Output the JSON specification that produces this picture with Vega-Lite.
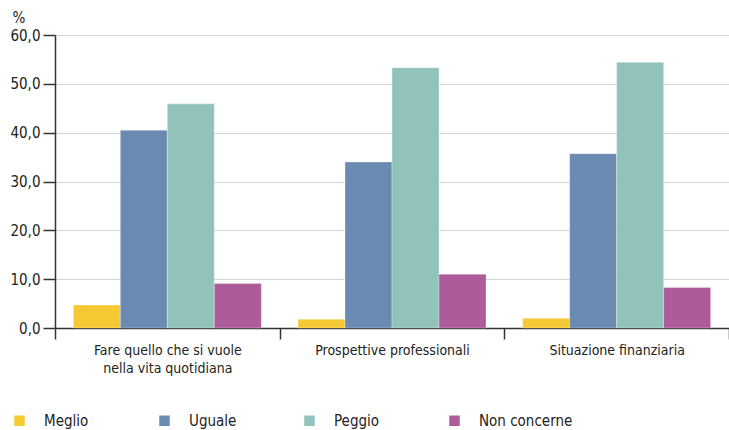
{
  "$schema": "https://vega.github.io/schema/vega-lite/v6.json",
  "width": 674,
  "height": 293,
  "autosize": {"type": "none"},
  "padding": {"left": 55, "top": 35, "right": 0, "bottom": 102},
  "background": "white",
  "data": {"values": [
    {"cat": "Fare quello che si vuole|nella vita quotidiana", "serie": "Meglio", "v": 4.7},
    {"cat": "Fare quello che si vuole|nella vita quotidiana", "serie": "Uguale", "v": 40.5},
    {"cat": "Fare quello che si vuole|nella vita quotidiana", "serie": "Peggio", "v": 45.9},
    {"cat": "Fare quello che si vuole|nella vita quotidiana", "serie": "Non concerne", "v": 9.1},
    {"cat": "Prospettive professionali", "serie": "Meglio", "v": 1.8},
    {"cat": "Prospettive professionali", "serie": "Uguale", "v": 34.0},
    {"cat": "Prospettive professionali", "serie": "Peggio", "v": 53.3},
    {"cat": "Prospettive professionali", "serie": "Non concerne", "v": 11.0},
    {"cat": "Situazione finanziaria", "serie": "Meglio", "v": 2.0},
    {"cat": "Situazione finanziaria", "serie": "Uguale", "v": 35.7},
    {"cat": "Situazione finanziaria", "serie": "Peggio", "v": 54.4},
    {"cat": "Situazione finanziaria", "serie": "Non concerne", "v": 8.3}
  ]},
  "mark": {"type": "bar", "stroke": "white", "strokeWidth": 0.5, "strokeOpacity": 0.6},
  "encoding": {
    "x": {
      "field": "cat", "type": "nominal", "sort": null,
      "scale": {"paddingInner": 0, "paddingOuter": 0},
      "axis": {
        "title": null, "labelAngle": 0, "tickBand": "extent",
        "labelExpr": "isString(datum.value) ? split(datum.value, '|') : ''",
        "labelFont": "DejaVu Sans Condensed", "labelFontSize": 14, "labelColor": "#222",
        "labelLineHeight": 18, "labelBaseline": "top",
        "tickSize": 11, "tickColor": "#333", "tickWidth": 1.5,
        "domainColor": "#333", "domainWidth": 1.5, "labelPadding": 4
      }
    },
    "xOffset": {"field": "serie", "type": "nominal", "sort": ["Meglio", "Uguale", "Peggio", "Non concerne"], "scale": {"paddingInner": 0, "paddingOuter": 0.39}},
    "y": {
      "field": "v", "type": "quantitative",
      "scale": {"domain": [0, 60], "nice": false},
      "axis": {
        "values": [0, 10, 20, 30, 40, 50, 60],
        "labelExpr": "replace(format(datum.value, '.1f'), '.', ',')",
        "title": "%", "titleAngle": 0, "titleX": -43, "titleY": -13,
        "titleAlign": "left", "titleBaseline": "alphabetic",
        "titleFont": "DejaVu Sans Condensed", "titleFontSize": 15, "titleFontWeight": "normal", "titleColor": "#222",
        "labelFont": "DejaVu Sans Condensed", "labelFontSize": 15, "labelColor": "#222",
        "labelPadding": 3, "tickSize": 12, "tickColor": "#333", "tickWidth": 1.5,
        "domainColor": "#333", "domainWidth": 1.5,
        "grid": true, "gridColor": "#d4d4d4", "gridWidth": 1
      }
    },
    "color": {
      "field": "serie", "type": "nominal",
      "scale": {"domain": ["Meglio", "Uguale", "Peggio", "Non concerne"], "range": ["#f5c933", "#6a8ab2", "#91c3ba", "#ae5b9a"]},
      "legend": {
        "title": null, "orient": "none", "legendX": -43, "legendY": 378,
        "direction": "horizontal", "columns": 4, "gridAlign": "all",
        "symbolType": "square", "symbolSize": 110, "symbolStrokeWidth": 0,
        "labelFont": "DejaVu Sans Condensed", "labelFontSize": 15, "labelColor": "#222",
        "labelOffset": 17, "columnPadding": 19
      }
    }
  },
  "config": {"view": {"stroke": null}}
}
